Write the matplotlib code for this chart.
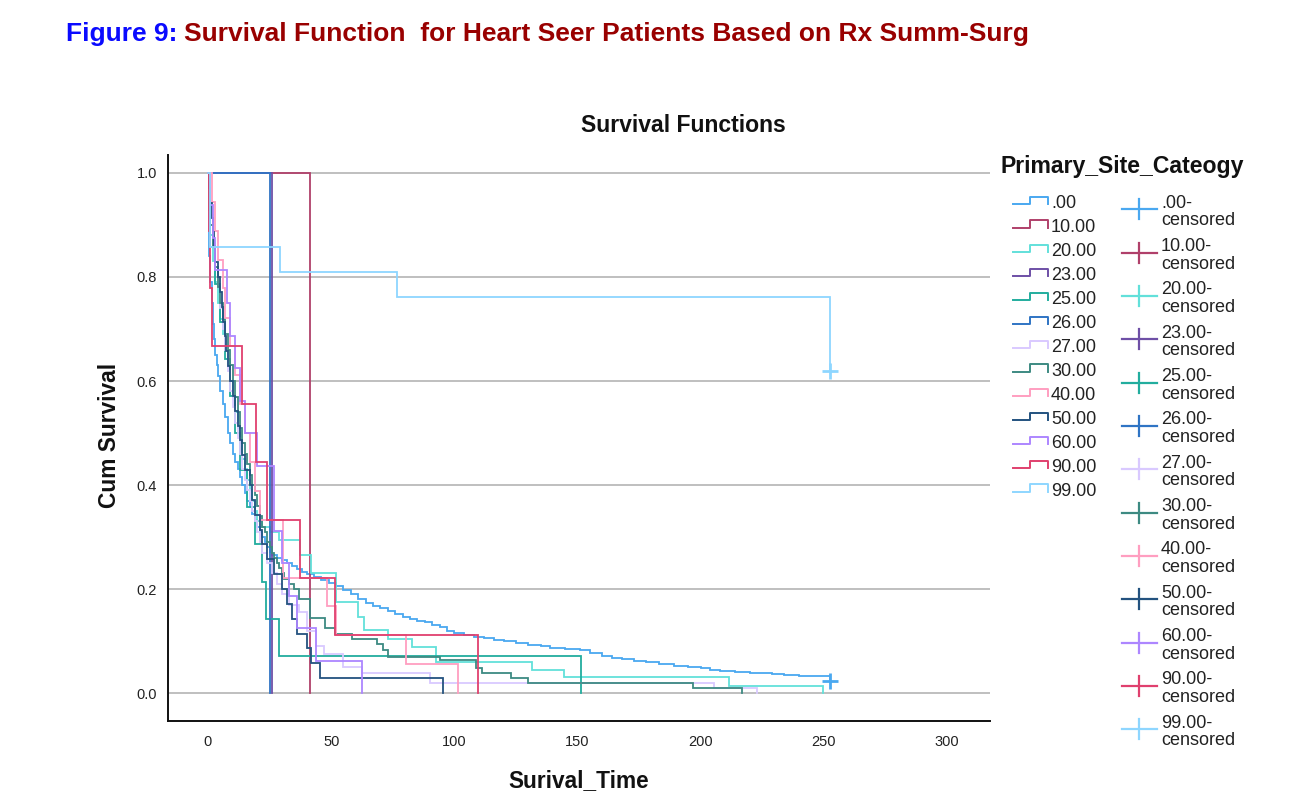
import matplotlib
matplotlib.use('Agg')
import matplotlib.pyplot as plt
from matplotlib.lines import Line2D

plt.rcParams['font.family'] = ['Liberation Sans', 'DejaVu Sans']

# ---------------- data ----------------
group_labels = ['.00', '10.00', '20.00', '23.00', '25.00', '26.00', '27.00',
                '30.00', '40.00', '50.00', '60.00', '90.00', '99.00']
group_colors = ['#4aa8f0', '#b0406a', '#62e0da', '#6e4fa6', '#22ad9e', '#2f74c4',
                '#d9c9ff', '#3d8a82', '#ff9ec0', '#23527f', '#ad86ff', '#e0406e',
                '#8ed6ff']

t_00 = [0, 0.3, 0.6, 1, 1.5, 2, 2.5, 3, 3.5, 4, 5, 6, 7, 8, 9, 10, 11, 12, 13, 14,
        15, 16, 17, 18, 19, 20, 21, 22, 23, 24, 25, 26, 28, 30, 32, 34, 36, 38, 40,
        43, 46, 49, 52, 55, 58, 61, 64, 67, 70, 73, 76, 79, 82, 85, 88, 91, 94, 97,
        100, 104, 108, 112, 116, 120, 125, 130, 135, 139, 145, 151, 155, 160, 164,
        168, 173, 178, 183, 189, 195, 200, 204, 208, 214, 220, 229, 234, 240, 246,
        252.5]
s_00 = [1.0, 0.9, 0.84, 0.79, 0.75, 0.71, 0.68, 0.65, 0.63, 0.61, 0.58, 0.555,
        0.53, 0.50, 0.48, 0.46, 0.445, 0.43, 0.415, 0.40, 0.385, 0.37, 0.357,
        0.345, 0.332, 0.32, 0.31, 0.30, 0.29, 0.28, 0.272, 0.265, 0.26, 0.255,
        0.25, 0.244, 0.238, 0.233, 0.229, 0.224, 0.218, 0.212, 0.206, 0.199, 0.19,
        0.181, 0.174, 0.168, 0.163, 0.158, 0.152, 0.147, 0.143, 0.139, 0.136,
        0.131, 0.126, 0.12, 0.115, 0.111, 0.108, 0.105, 0.102, 0.1, 0.097, 0.093,
        0.091, 0.087, 0.085, 0.082, 0.077, 0.071, 0.068, 0.065, 0.062, 0.059,
        0.056, 0.052, 0.05, 0.048, 0.045, 0.043, 0.04, 0.038, 0.037, 0.035,
        0.033, 0.032, 0.023]

t_10 = [0, 41.4]
s_10 = [1.0, 0.0]

t_20 = [0, 0.5, 1, 2, 3, 4, 5, 6, 7, 8, 9, 10, 11, 12, 13, 14, 15, 16, 17, 18,
        19, 20, 22, 25, 29, 37.4, 42, 52, 61, 63.3, 73, 83, 92.6, 131.5, 144.5,
        211.5, 249.8]
s_20 = [1.0, 0.93, 0.88, 0.83, 0.79, 0.75, 0.72, 0.69, 0.66, 0.63, 0.60, 0.57,
        0.54, 0.51, 0.48, 0.45, 0.43, 0.41, 0.39, 0.37, 0.35, 0.33, 0.32, 0.31,
        0.294, 0.265, 0.23, 0.175, 0.146, 0.121, 0.104, 0.088, 0.06, 0.044,
        0.031, 0.013, 0.0]

t_23 = [0, 26.0]
s_23 = [1.0, 0.0]

t_25 = [0, 0.5, 1, 3, 5, 7, 9, 11, 13, 16, 19, 21.8, 23.5, 28.8, 151.4]
s_25 = [1.0, 0.929, 0.857, 0.786, 0.714, 0.643, 0.571, 0.5, 0.429, 0.357,
        0.286, 0.214, 0.143, 0.071, 0.0]

t_26 = [0, 25.3]
s_26 = [1.0, 0.0]

t_27 = [0, 1, 2, 3, 4, 5, 6, 7, 8, 9, 10, 11, 12, 13, 14, 15, 16, 17, 18, 19,
        20, 21, 22, 24, 26, 28, 30, 33, 37, 40, 44, 47, 55, 62.5, 90, 205.5, 223]
s_27 = [1.0, 0.92, 0.87, 0.82, 0.78, 0.74, 0.70, 0.66, 0.62, 0.58, 0.55, 0.52,
        0.49, 0.46, 0.43, 0.41, 0.39, 0.37, 0.35, 0.33, 0.31, 0.29, 0.27, 0.25,
        0.23, 0.21, 0.19, 0.17, 0.156, 0.12, 0.09, 0.075, 0.05, 0.038, 0.019,
        0.01, 0.0]

t_30 = [0, 0.5, 1, 2, 3, 4, 5, 6, 7, 8, 9, 10, 11, 12, 13, 14, 15, 16, 17, 18,
        19, 20, 21, 22, 23, 24, 25, 26, 27, 28, 29, 30, 31, 33, 35, 37, 41.4,
        47.5, 51.6, 58.5, 68.6, 71, 73, 94, 109, 111.3, 123, 130, 197, 216.8]
s_30 = [1.0, 0.95, 0.9, 0.86, 0.82, 0.78, 0.75, 0.72, 0.69, 0.66, 0.63, 0.60,
        0.57, 0.54, 0.51, 0.48, 0.46, 0.44, 0.42, 0.40, 0.38, 0.36, 0.34, 0.32,
        0.31, 0.29, 0.28, 0.27, 0.26, 0.25, 0.24, 0.23, 0.22, 0.21, 0.20, 0.181,
        0.144, 0.125, 0.113, 0.104, 0.094, 0.083, 0.069, 0.063, 0.048, 0.038,
        0.029, 0.019, 0.01, 0.0]

t_40 = [0, 1.5, 3, 4, 6, 7, 9, 11, 13, 15, 17, 19, 21, 30.4, 48.5, 52, 80.4, 101.6]
s_40 = [1.0, 0.944, 0.889, 0.833, 0.778, 0.722, 0.667, 0.611, 0.556, 0.5, 0.444,
        0.389, 0.333, 0.222, 0.167, 0.111, 0.056, 0.0]

t_50 = [0, 0.5, 1, 1.5, 2, 2.5, 3, 4, 5, 5.5, 6, 7, 7.5, 8, 9, 10, 11, 12, 13,
        14, 15, 17, 18, 19, 21, 22, 24, 27, 30, 32, 34, 36, 40, 42, 45.5, 95.4]
s_50 = [1.0, 0.971, 0.943, 0.914, 0.886, 0.857, 0.829, 0.8, 0.771, 0.743, 0.714,
        0.686, 0.657, 0.629, 0.6, 0.571, 0.543, 0.514, 0.486, 0.457, 0.429, 0.4,
        0.371, 0.343, 0.314, 0.286, 0.257, 0.229, 0.2, 0.171, 0.143, 0.114,
        0.086, 0.057, 0.029, 0.0]

t_60 = [0, 1, 2, 3, 7.6, 9, 11, 13, 15, 20, 27, 30, 33, 36, 44, 62.5]
s_60 = [1.0, 0.9375, 0.875, 0.8125, 0.75, 0.6875, 0.625, 0.5625, 0.5, 0.4375,
        0.3125, 0.25, 0.1875, 0.125, 0.0625, 0.0]

t_90 = [0, 0.5, 1, 1.8, 14, 19.5, 24, 37.4, 51.6, 109.6]
s_90 = [1.0, 0.889, 0.778, 0.667, 0.556, 0.444, 0.333, 0.222, 0.111, 0.0]

t_99 = [0, 1, 29.2, 76.7, 252.5]
s_99 = [1.0, 0.857, 0.81, 0.762, 0.619]

series_t = [t_00, t_10, t_20, t_23, t_25, t_26, t_27, t_30, t_40, t_50, t_60, t_90, t_99]
series_s = [s_00, s_10, s_20, s_23, s_25, s_26, s_27, s_30, s_40, s_50, s_60, s_90, s_99]

censor_t = [252.5, 252.5]
censor_s = [0.023, 0.619]
censor_group = [0, 12]

x_ticks = [0, 50, 100, 150, 200, 250, 300]
y_ticks = [0.0, 0.2, 0.4, 0.6, 0.8, 1.0]

# ---------------- figure ----------------
W, H = 1312, 810
fig = plt.figure(figsize=(W / 100, H / 100), dpi=100)


def fx(x):
    return x / W


def fy(y):
    return 1 - y / H


ax = fig.add_axes([fx(168), fy(721), fx(990) - fx(168), fy(155) - fy(721)])
ax.set_xlim(-16.24, 317.5)
ax.set_ylim(-0.0538, 1.0346)

for t, s, c in zip(series_t, series_s, group_colors):
    ax.step(t, s, where='post', color=c, lw=1.3, solid_joinstyle='miter')

for ct, cs, g in zip(censor_t, censor_s, censor_group):
    ax.plot([ct], [cs], marker='+', ms=11, mew=2.0, color=group_colors[g], ls='none')

ax.set_xticks(x_ticks)
ax.set_xticklabels([str(v) for v in x_ticks])
ax.set_yticks(y_ticks)
ax.set_yticklabels(['%.1f' % v for v in y_ticks])
ax.tick_params(axis='both', length=0, labelsize=10.5, colors='#222222')
ax.tick_params(axis='y', pad=8)
ax.tick_params(axis='x', pad=10)
ax.grid(axis='y', color='#b4b4b4', lw=1.2)
ax.set_axisbelow(True)
for side in ['top', 'right']:
    ax.spines[side].set_visible(False)
for side in ['left', 'bottom']:
    ax.spines[side].set_linewidth(1.4)
    ax.spines[side].set_color('#111111')

# titles / labels
fig.text(fx(683), fy(125), 'Survival Functions', ha='center', va='center',
         fontsize=16.6, fontweight='bold', color='#111111')
fig.text(fx(110), fy(435), 'Cum Survival', ha='center', va='center', rotation=90,
         fontsize=16.4, fontweight='bold', color='#111111')
fig.text(fx(579), fy(781), 'Surival_Time', ha='center', va='center',
         fontsize=16.3, fontweight='bold', color='#111111')

# heading in two colours
fig.canvas.draw()
renderer = fig.canvas.get_renderer()
h1 = fig.text(fx(66), fy(34), 'Figure 9:', ha='left', va='center',
              fontsize=19, fontweight='bold', color='#0a0aff')
bb = h1.get_window_extent(renderer=renderer)
fig.text((bb.x1 + 7) / W, fy(34), 'Survival Function  for Heart Seer Patients Based on Rx Summ-Surg',
         ha='left', va='center', fontsize=19, fontweight='bold', color='#990000')

# ---------------- legend (drawn by hand) ----------------
fig.text(fx(1000), fy(166), 'Primary_Site_Cateogy', ha='left', va='center',
         fontsize=16.6, fontweight='bold', color='#111111')

for i, (lab, c) in enumerate(zip(group_labels, group_colors)):
    cy = 202.5 + 24.0 * i
    xs = [fx(1013), fx(1030), fx(1030), fx(1048), fx(1048)]
    ys = [fy(cy + 1.5), fy(cy + 1.5), fy(cy - 6), fy(cy - 6), fy(cy + 1.5)]
    fig.add_artist(Line2D(xs, ys, transform=fig.transFigure, color=c, lw=1.4))
    fig.text(fx(1051), fy(cy + 1), lab, ha='left', va='center', fontsize=13,
             color='#222222')

for i, (lab, c) in enumerate(zip(group_labels, group_colors)):
    my = 209.3 + 43.33 * i
    fig.add_artist(Line2D([fx(1122), fx(1157)], [fy(my), fy(my)],
                          transform=fig.transFigure, color=c, lw=1.6))
    fig.add_artist(Line2D([fx(1139), fx(1139)], [fy(my - 10), fy(my + 10)],
                          transform=fig.transFigure, color=c, lw=1.6))
    fig.text(fx(1161), fy(my - 6), lab + '-', ha='left', va='center', fontsize=13,
             color='#222222')
    fig.text(fx(1161), fy(my + 11.5), 'censored', ha='left', va='center', fontsize=13,
             color='#222222')

fig.savefig('out.png', dpi=100)
